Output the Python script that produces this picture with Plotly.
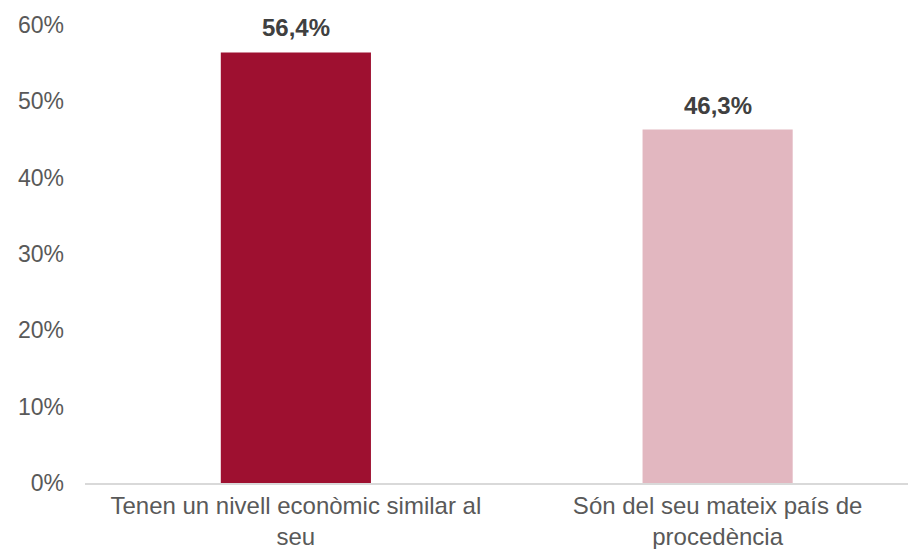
import plotly.graph_objects as go

categories = ["Tenen un nivell econòmic similar al<br>seu", "Són del seu mateix país de<br>procedència"]
values = [0.564, 0.463]
colors = ["#9e1030", "#e2b7c0"]
labels = ["56,4%", "46,3%"]
y_ticks = [0, 0.1, 0.2, 0.3, 0.4, 0.5, 0.6]
y_tick_text = ["0%", "10%", "20%", "30%", "40%", "50%", "60%"]

fig = go.Figure()
fig.add_trace(go.Bar(x=categories, y=values, marker_color=colors, width=0.356,
                     marker_line_width=0, hoverinfo="skip"))
for c, v, t in zip(categories, values, labels):
    fig.add_annotation(x=c, y=v, text="<b>" + t + "</b>", showarrow=False,
                       yanchor="bottom", yshift=9,
                       font=dict(family="Liberation Sans, Arial", size=24, color="#404040"))

fig.update_layout(
    width=916, height=549,
    margin=dict(l=77, r=9, t=17, b=74, autoexpand=False),
    plot_bgcolor="white", paper_bgcolor="white",
    showlegend=False,
    font=dict(family="Liberation Sans, Arial", size=23, color="#595959"),
)
fig.update_xaxes(type="category", range=[-0.5, 1.468], showline=True, linecolor="#d9d9d9",
                 linewidth=1.5, ticks="", showgrid=False, automargin=False,
                 ticklabelstandoff=0,
                 tickfont=dict(size=24, color="#595959"))
fig.update_yaxes(range=[0, 0.6], tickvals=y_ticks, ticktext=y_tick_text, showgrid=False,
                 zeroline=False, showline=False, ticks="", ticklabelstandoff=20, automargin=False,
                 tickfont=dict(size=23, color="#595959"))
fig.write_html("out.html")
